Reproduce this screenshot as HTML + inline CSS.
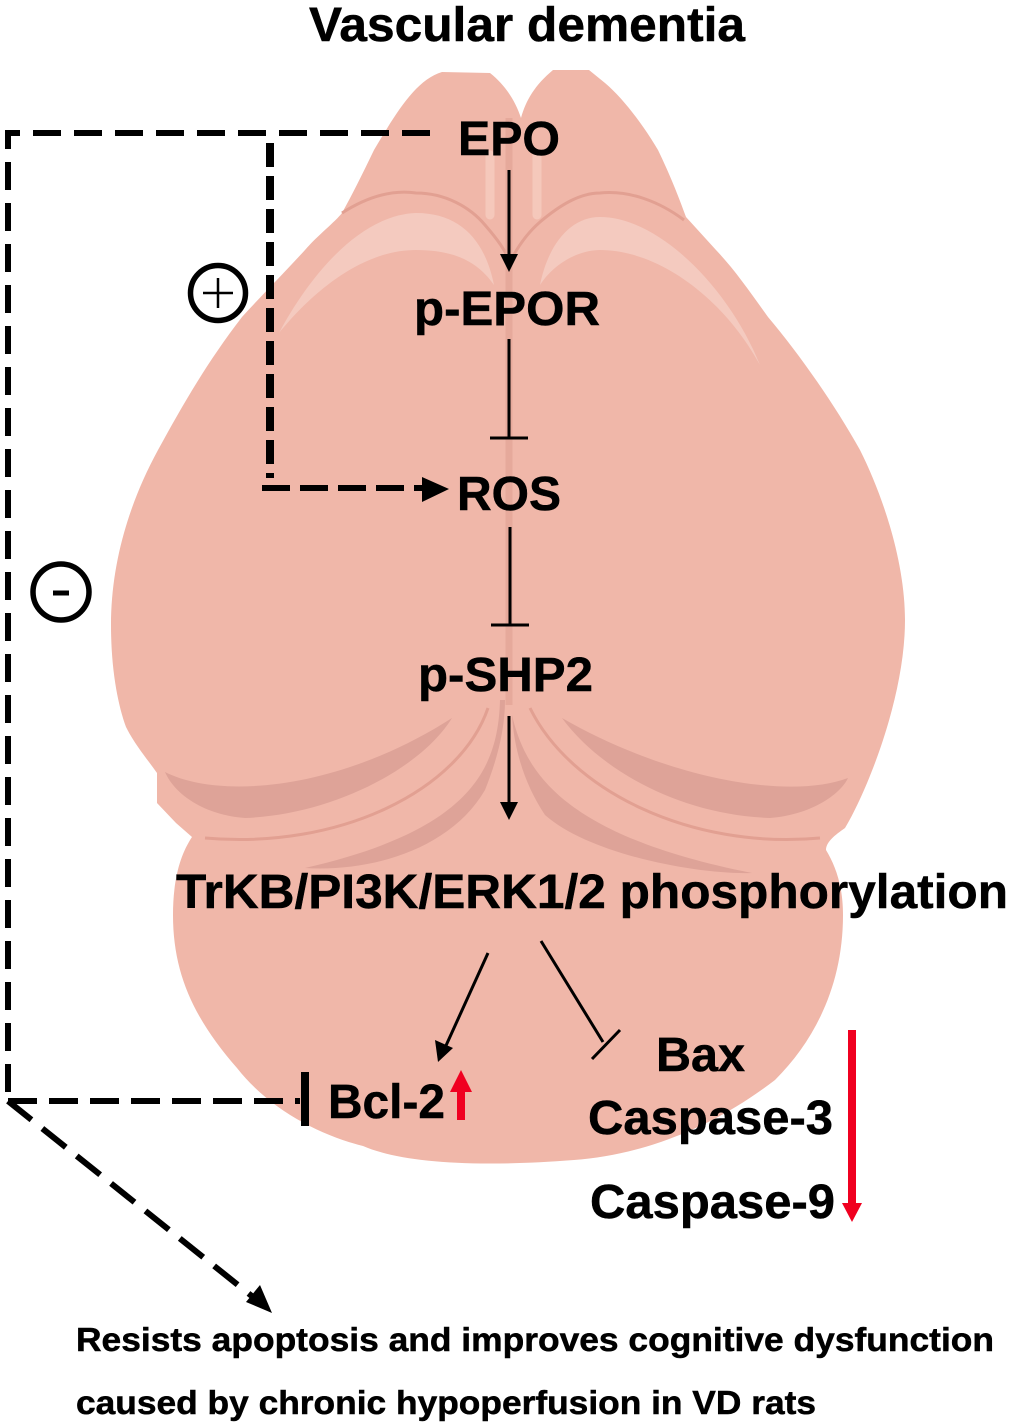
<!DOCTYPE html>
<html><head><meta charset="utf-8"><style>
html,body{margin:0;padding:0;background:#fff}
svg{display:block}
text{font-family:"Liberation Sans",sans-serif;font-weight:bold;fill:#000;stroke:#000;stroke-width:.5px}
</style></head><body>
<svg width="1020" height="1428" viewBox="0 0 1020 1428">
<path d="M442 72 C415 80 395 115 374 150 C362 175 352 195 342 213 C335 222 318 235 305 250 C285 272 262 295 242 317 C205 365 180 410 158 450 C128 505 111 565 111 625 C111 670 118 705 126 727 C135 745 148 760 157 773 L157 803 L176 823 L192 837 C180 855 173 880 173 915 C173 975 195 1020 237 1068 C270 1110 320 1135 363 1146 C400 1162 470 1168 574 1160 C640 1155 710 1130 775 1080 C815 1040 843 985 843 915 C843 885 835 865 826 850 C826 842 835 835 845 828 C865 795 905 700 905 620 C905 565 885 500 860 450 C835 405 800 355 768 317 C750 292 735 270 716 250 L686 217 C678 195 670 175 658 150 C645 128 625 100 605 83 L589 70 L553 70 C535 85 526 100 521 118 C515 100 505 85 490 73 Z" fill="#f0b7a9"/>
<path d="M342 213 C370 195 395 190 416 193 C445 193 470 207 485 225 C498 240 505 250 510 262 C516 250 525 235 540 222 C560 205 580 193 600 193 C630 190 660 202 684 220" fill="none" stroke="#e2a092" stroke-width="3"/>
<path d="M509 118 L509 705" stroke="#e6a99b" stroke-width="7" fill="none"/>
<path d="M490 155 V215 M537 155 V215" fill="none" stroke="#f5c8bb" stroke-width="9" stroke-linecap="round"/>
<path d="M279 333 C310 275 360 215 416 213 C460 213 485 240 494 285 C478 262 455 250 416 250 C360 250 310 295 279 333 Z" fill="#f4cabf"/>
<path d="M540 285 C548 245 570 217 600 217 C660 217 730 290 760 365 C725 300 660 250 600 250 C580 250 555 262 540 285 Z" fill="#f4cabf"/>
<path d="M165 772 C220 800 340 790 452 718 C420 770 330 815 245 818 C205 815 175 795 165 772 Z" fill="#dea398"/>
<path d="M848 778 C790 800 670 780 562 718 C600 770 680 815 770 818 C810 815 840 795 848 778 Z" fill="#dea398"/>
<path d="M500 700 C498 770 470 830 305 868 C370 872 450 850 485 790 C497 760 505 730 505 700 Z" fill="#dea398"/>
<path d="M512 715 C525 770 560 835 752 873 C700 875 590 855 545 815 C525 785 514 750 512 715 Z" fill="#dea398"/>
<path d="M488 708 C460 790 340 850 205 838 M530 708 C570 790 690 850 820 838" fill="none" stroke="#e2a092" stroke-width="3"/>

<text x="309" y="41" font-size="48" textLength="436" lengthAdjust="spacingAndGlyphs">Vascular dementia</text>
<text x="458" y="155" font-size="48" textLength="102" lengthAdjust="spacingAndGlyphs">EPO</text>
<text x="414" y="325" font-size="48" textLength="186" lengthAdjust="spacingAndGlyphs">p-EPOR</text>
<text x="457" y="510" font-size="48" textLength="104" lengthAdjust="spacingAndGlyphs">ROS</text>
<text x="418" y="691" font-size="48" textLength="175" lengthAdjust="spacingAndGlyphs">p-SHP2</text>
<text x="176" y="908" font-size="48" textLength="832" lengthAdjust="spacingAndGlyphs">TrKB/PI3K/ERK1/2 phosphorylation</text>
<text x="328" y="1118" font-size="48" textLength="117" lengthAdjust="spacingAndGlyphs">Bcl-2</text>
<text x="656" y="1071" font-size="48" textLength="89" lengthAdjust="spacingAndGlyphs">Bax</text>
<text x="588" y="1134" font-size="48" textLength="245" lengthAdjust="spacingAndGlyphs">Caspase-3</text>
<text x="590" y="1218" font-size="48" textLength="245" lengthAdjust="spacingAndGlyphs">Caspase-9</text>
<text x="76" y="1351" font-size="33" textLength="918" lengthAdjust="spacingAndGlyphs">Resists apoptosis and improves cognitive dysfunction</text>
<text x="76" y="1414" font-size="33" textLength="740" lengthAdjust="spacingAndGlyphs">caused by chronic hypoperfusion in VD rats</text>

<g stroke="#000" stroke-width="3" fill="none">
<path d="M509 170 V258"/>
<path d="M509 339 V438 M490 438 H528" />
<path d="M510 527 V625 M491 625 H529"/>
<path d="M509 716 V805"/>
<path d="M488 953 L444 1050"/>
<path d="M541 941 L603 1042 M620 1030 L592 1059"/>
</g>
<g fill="#000">
<path d="M500 254 H518 L509 272 Z"/>
<path d="M500 802 H518 L509 820 Z"/>
<path d="M435 1040 L453 1048 L438 1062 Z"/>
</g>

<g stroke="#000" fill="none" stroke-width="6">
<path d="M430 133 H8 V1100" stroke-dasharray="28 13"/>
<path d="M270 143 V478" stroke-width="8" stroke-dasharray="24 9"/>
<path d="M262 488 H425" stroke-width="6" stroke-dasharray="28 10"/>
<path d="M8 1101 H300" stroke-dasharray="29 12"/>
<path d="M305 1072 V1126" stroke-width="8"/>
<path d="M8 1101 L258 1301" stroke-dasharray="30 14"/>
</g>
<path d="M422 477 L449 489 L422 502 Z" fill="#000"/>
<path d="M272 1313 L246 1302 L260 1285 Z" fill="#000"/>

<circle cx="218" cy="293" r="27.5" fill="none" stroke="#000" stroke-width="5.5"/>
<path d="M203 293 H233 M218 278 V308" stroke="#000" stroke-width="2.5"/>
<circle cx="61" cy="592" r="28" fill="none" stroke="#000" stroke-width="5.5"/>
<path d="M53 593 H69" stroke="#000" stroke-width="5"/>

<rect x="457" y="1090" width="8" height="30" fill="#f00020"/>
<path d="M450 1092 L461 1070 L472 1092 Z" fill="#f00020"/>
<rect x="848" y="1030" width="8" height="175" fill="#f00020"/>
<path d="M842 1203 H862 L852 1222 Z" fill="#f00020"/>
</svg>
</body></html>
